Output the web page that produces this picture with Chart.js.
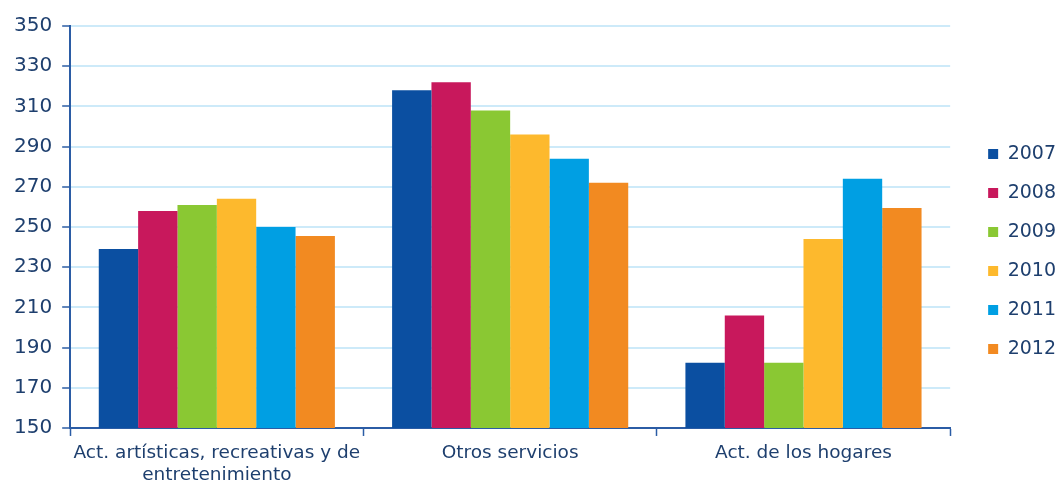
<!DOCTYPE html>
<html>
<head>
<meta charset="utf-8">
<script src="https://cdn.jsdelivr.net/npm/chart.js@4.4.1/dist/chart.umd.min.js"></script>
<style>
  html, body { margin: 0; padding: 0; background: #fff; }
  #wrap { width: 1059px; height: 481px; }
</style>
</head>
<body>
<div id="wrap"><canvas id="grafico" width="1059" height="481"></canvas></div>
<script>
// categorias e valores
const categorias = [
    ["Act. artísticas, recreativas y de", "entretenimiento"],
    "Otros servicios",
    "Act. de los hogares"
];
const anos = ["2007", "2008", "2009", "2010", "2011", "2012"];
const v2007 = [239, 318, 182.5];
const v2008 = [258, 322, 206];
const v2009 = [261, 308, 182.5];
const v2010 = [264, 296, 244];
const v2011 = [250, 284, 274];
const v2012 = [245.5, 272, 259.5];
const yTicks = [150, 170, 190, 210, 230, 250, 270, 290, 310, 330, 350];
const cores = ["#0b4fa1", "#c8185c", "#8ac833", "#fdb92d", "#009fe3", "#f28a21"];

const corTexto = "#1e3f6e";
const corEixo = "#2b5ca5";
const fonte = "DejaVu Sans";

const series = [v2007, v2008, v2009, v2010, v2011, v2012];

// empurra a legenda um pouco para a direita, como no original
const LARGURA_EXTRA = 11;
const DESLOCA_X = 18;
const DESLOCA_Y = -7.5;
const ajusteLegenda = {
    id: "ajusteLegenda",
    beforeInit(chart) {
        const fitOriginal = chart.legend.fit;
        chart.legend.fit = function () {
            fitOriginal.call(this);
            this.width += LARGURA_EXTRA;
        };
    },
    afterLayout(chart) {
        chart.legend.left += DESLOCA_X;
        chart.legend.top += DESLOCA_Y;
        chart.legend.bottom += DESLOCA_Y;
    }
};

var ctx = document.getElementById("grafico").getContext("2d");
var myChart = new Chart(ctx, {
    type: "bar",
    data: {
        labels: categorias,
        datasets: anos.map((ano, i) => ({
            label: ano,
            data: series[i],
            backgroundColor: cores[i],
            borderWidth: 0,
            categoryPercentage: 0.805,
            barPercentage: 1.0
        }))
    },
    options: {
        responsive: false,
        animation: false,
        layout: { padding: { top: 26, right: 0, bottom: -11, left: 4 } },
        plugins: {
            tooltip: { enabled: false },
            legend: {
                position: "right",
                labels: {
                    boxWidth: 10,
                    boxHeight: 10,
                    padding: 20,
                    color: corTexto,
                    font: { family: fonte, size: 19 }
                }
            }
        },
        scales: {
            y: {
                min: yTicks[0],
                max: yTicks[yTicks.length - 1],
                afterBuildTicks: (axis) => { axis.ticks = yTicks.map(v => ({ value: v })); },
                ticks: {
                    color: corTexto,
                    padding: 10,
                    font: { family: fonte, size: 20 }
                },
                grid: {
                    color: "#cdeaf9",
                    lineWidth: 2,
                    tickColor: corEixo,
                    tickLength: 8,
                    tickWidth: 1.5
                },
                border: { color: corEixo, width: 2 }
            },
            x: {
                ticks: {
                    color: corTexto,
                    padding: 6,
                    maxRotation: 0,
                    minRotation: 0,
                    autoSkip: false,
                    font: { family: fonte, size: 18.5, lineHeight: 1.19 }
                },
                grid: {
                    drawOnChartArea: false,
                    tickColor: corEixo,
                    tickLength: 8,
                    tickWidth: 1.5
                },
                border: { color: corEixo, width: 2 }
            }
        }
    },
    plugins: [ajusteLegenda]
});
</script>
</body>
</html>
